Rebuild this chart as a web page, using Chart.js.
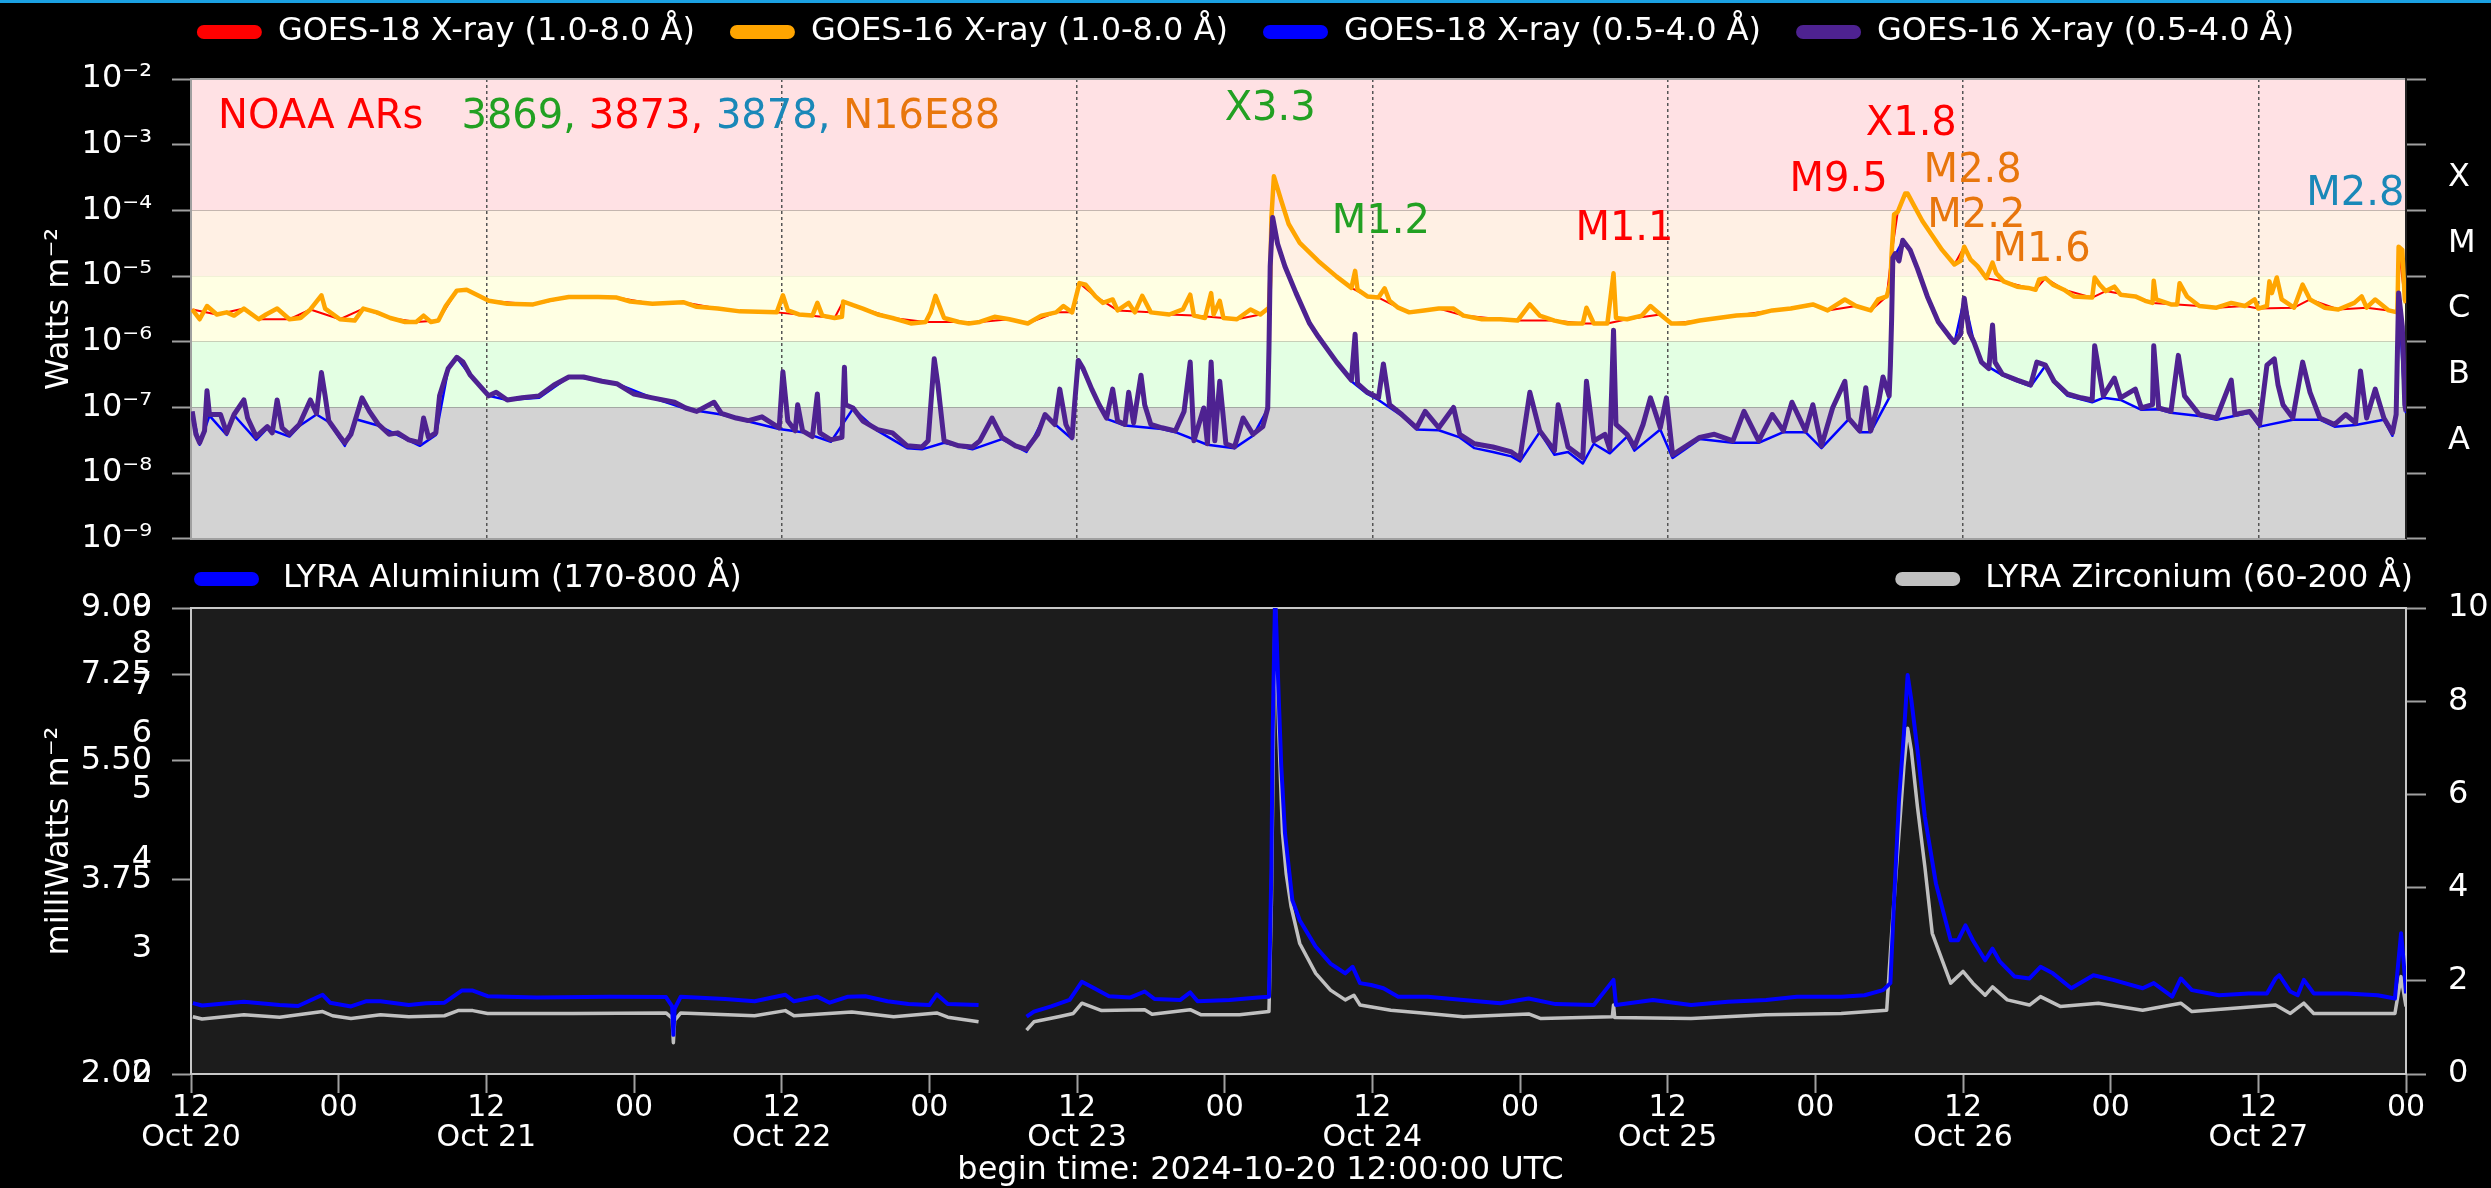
<!DOCTYPE html>
<html>
<head>
<meta charset="utf-8">
<title>GOES / LYRA flux</title>
<script src="https://cdn.jsdelivr.net/npm/chart.js@4.4.1/dist/chart.umd.min.js"></script>
<style>
  html, body { margin: 0; padding: 0; background: #000; }
  body { width: 2491px; height: 1188px; position: relative; overflow: hidden; }
  #topbar { position: absolute; left: 0; top: 0; width: 2491px; height: 3px; background: #1ba1e2; }
  #goes-wrap { position: absolute; left: 0; top: 0; width: 2491px; height: 580px; }
  #lyra-wrap { position: absolute; left: 0; top: 545px; width: 2491px; height: 643px; }
</style>
</head>
<body>
<div id="goes-wrap"><canvas id="goesChart"></canvas></div>
<div id="lyra-wrap"><canvas id="lyraChart"></canvas></div>
<div id="topbar"></div>
<script>
// --- Data: [hours since 2024-10-20 12:00 UTC, value] ---
const BEGIN_TIME = '2024-10-20 12:00:00 UTC';

// GOES X-ray flux, W m^-2
const goes16Long = [
  [0.1,3.1e-6],[0.7,2.2e-6],[1.3,3.5e-6],[2.1,2.6e-6],[2.9,2.8e-6],[3.5,2.5e-6],[4.3,3.2e-6],[5.5,2.2e-6],
  [6.1,2.6e-6],[7.0,3.2e-6],[8.0,2.2e-6],[8.9,2.3e-6],[9.7,3.1e-6],[10.6,5.1e-6],[10.9,3.2e-6],[12.1,2.2e-6],
  [13.3,2.1e-6],[14.0,3.2e-6],[15.1,2.8e-6],[16.2,2.3e-6],[17.4,2.0e-6],[18.3,2.0e-6],[18.9,2.5e-6],[19.5,2.0e-6],
  [20.1,2.1e-6],[20.7,3.5e-6],[21.6,6.0e-6],[22.4,6.2e-6],[23.3,5.1e-6],[24.2,4.2e-6],[25.7,3.8e-6],[27.8,3.7e-6],
  [29.2,4.3e-6],[30.7,4.8e-6],[33.1,4.8e-6],[34.6,4.7e-6],[35.7,4.1e-6],[37.5,3.8e-6],[40.0,4.0e-6],[41.1,3.4e-6],
  [42.8,3.2e-6],[44.6,2.9e-6],[47.6,2.8e-6],[48.1,5.1e-6],[48.5,3.0e-6],[49.4,2.6e-6],[50.5,2.5e-6],[50.9,3.9e-6],
  [51.3,2.5e-6],[52.3,2.3e-6],[52.9,2.4e-6],[53.0,4.1e-6],[53.8,3.6e-6],[54.6,3.2e-6],[55.8,2.6e-6],[57.0,2.3e-6],
  [58.5,1.9e-6],[59.7,2.0e-6],[60.1,2.8e-6],[60.5,5.0e-6],[61.2,2.3e-6],[62.4,2.0e-6],[63.2,1.9e-6],[64.1,2.0e-6],
  [65.3,2.4e-6],[66.5,2.2e-6],[68.0,1.9e-6],[69.1,2.5e-6],[70.3,2.8e-6],[70.9,3.5e-6],[71.6,2.8e-6],[72.2,7.8e-6],
  [72.7,7.4e-6],[73.5,4.9e-6],[74.1,3.9e-6],[74.9,4.4e-6],[75.3,3.0e-6],[76.2,3.9e-6],[76.7,2.8e-6],[77.3,5.0e-6],
  [78.0,2.8e-6],[79.5,2.6e-6],[80.6,3.1e-6],[81.2,5.2e-6],[81.5,2.5e-6],[82.4,2.3e-6],[82.9,5.5e-6],[83.1,2.6e-6],
  [83.6,4.2e-6],[83.9,2.3e-6],[85.0,2.2e-6],[86.1,3.1e-6],[86.9,2.6e-6],[87.6,3.3e-6],[87.7,8.7e-6],[87.8,7.8e-5],
  [88.0,3.3e-4],[88.6,1.4e-4],[89.2,6.2e-5],[90.1,3.2e-5],[91.6,1.7e-5],[93.1,9.8e-6],[94.3,6.6e-6],[94.6,1.2e-5],
  [94.8,6.2e-6],[95.6,4.9e-6],[96.5,4.7e-6],[97.0,6.5e-6],[97.4,4.2e-6],[98.1,3.3e-6],[99.0,2.8e-6],[100.2,3.0e-6],
  [101.4,3.2e-6],[102.6,3.2e-6],[103.4,2.5e-6],[104.9,2.2e-6],[106.4,2.2e-6],[107.8,2.1e-6],[108.8,3.7e-6],[109.6,2.5e-6],
  [110.8,2.1e-6],[111.9,1.9e-6],[113.1,1.9e-6],[113.4,3.3e-6],[114.0,1.9e-6],[115.1,1.9e-6],[115.6,1.1e-5],[115.8,2.3e-6],
  [116.7,2.2e-6],[117.9,2.5e-6],[118.6,3.5e-6],[119.4,2.6e-6],[120.3,1.9e-6],[121.4,1.9e-6],[122.6,2.1e-6],[124.1,2.3e-6],
  [125.6,2.5e-6],[127.1,2.6e-6],[128.5,3.0e-6],[130.0,3.2e-6],[131.8,3.7e-6],[133.0,3.0e-6],[134.4,4.4e-6],[135.3,3.5e-6],
  [136.5,3.0e-6],[137.1,4.4e-6],[137.8,4.9e-6],[138.1,7.8e-6],[138.2,2.2e-5],[138.4,8.7e-5],[138.7,9.5e-5],[139.3,1.8e-4],
  [139.5,1.8e-4],[140.0,1.2e-4],[140.7,6.9e-5],[141.4,4.4e-5],[142.3,2.5e-5],[143.3,1.5e-5],[143.8,1.7e-5],[144.1,2.8e-5],
  [144.6,1.8e-5],[145.2,1.4e-5],[145.9,9.3e-6],[146.4,1.6e-5],[146.7,1.1e-5],[147.3,8.3e-6],[148.4,6.9e-6],[149.3,6.6e-6],
  [149.9,6.2e-6],[150.2,8.9e-6],[150.7,9.3e-6],[151.3,7.4e-6],[152.2,6.2e-6],[153.0,4.9e-6],[154.5,4.7e-6],[154.7,9.5e-6],
  [155.1,7.4e-6],[155.6,5.9e-6],[156.3,6.9e-6],[156.8,5.2e-6],[158.0,4.9e-6],[158.8,4.2e-6],[159.4,3.9e-6],[159.5,8.5e-6],
  [159.7,4.4e-6],[160.9,3.7e-6],[161.4,3.7e-6],[161.6,7.8e-6],[162.2,4.9e-6],[163.2,3.5e-6],[164.6,3.3e-6],[165.8,3.9e-6],
  [166.9,3.5e-6],[167.7,4.4e-6],[168.0,3.2e-6],[168.7,3.5e-6],[168.9,8.3e-6],[169.1,5.5e-6],[169.5,9.5e-6],[169.9,4.4e-6],
  [170.9,3.3e-6],[171.6,7.4e-6],[172.2,4.4e-6],[173.4,3.3e-6],[174.5,3.1e-6],[175.8,3.9e-6],[176.4,4.9e-6],[176.8,3.3e-6],
  [177.5,4.4e-6],[178.6,3.0e-6],[179.3,2.8e-6],[179.4,2.8e-5],[179.7,2.5e-5],[179.9,4.4e-6],[180.0,3.9e-6]
];

const goes18Long = [
  [0.1,3.1e-6],[2.1,2.6e-6],[4.3,3.2e-6],[5.5,2.2e-6],[8.0,2.2e-6],[9.7,3.1e-6],[12.1,2.2e-6],[14.0,3.2e-6],
  [16.2,2.3e-6],[18.3,2.0e-6],[20.1,2.1e-6],[21.6,6.0e-6],[22.4,6.2e-6],[24.2,4.2e-6],[27.8,3.7e-6],[30.7,4.8e-6],
  [34.6,4.7e-6],[37.5,3.8e-6],[40.0,4.0e-6],[42.8,3.2e-6],[44.6,2.9e-6],[47.6,2.8e-6],[49.4,2.6e-6],[52.3,2.3e-6],
  [53.0,4.1e-6],[54.6,3.2e-6],[57.0,2.3e-6],[59.7,2.0e-6],[62.4,2.0e-6],[64.1,2.0e-6],[66.5,2.2e-6],[68.0,1.9e-6],
  [70.3,2.8e-6],[71.6,2.8e-6],[72.2,7.8e-6],[73.5,4.9e-6],[75.3,3.0e-6],[78.0,2.8e-6],[79.5,2.6e-6],[81.5,2.5e-6],
  [83.9,2.3e-6],[85.0,2.2e-6],[86.9,2.6e-6],[87.6,3.3e-6],[87.8,7.8e-5],[88.0,3.3e-4],[88.6,1.4e-4],[89.2,6.2e-5],
  [90.1,3.2e-5],[91.6,1.7e-5],[93.1,9.8e-6],[94.3,6.6e-6],[95.6,4.9e-6],[96.5,4.7e-6],[98.1,3.3e-6],[99.0,2.8e-6],
  [101.4,3.2e-6],[103.4,2.5e-6],[106.4,2.2e-6],[107.8,2.1e-6],[110.8,2.1e-6],[113.1,1.9e-6],[115.1,1.9e-6],[116.7,2.2e-6],
  [119.4,2.6e-6],[120.3,1.9e-6],[122.6,2.1e-6],[125.6,2.5e-6],[128.5,3.0e-6],[130.0,3.2e-6],[131.8,3.7e-6],[133.0,3.0e-6],
  [135.3,3.5e-6],[136.5,3.0e-6],[137.8,4.9e-6],[138.2,2.2e-5],[138.7,9.5e-5],[139.3,1.8e-4],[139.5,1.8e-4],[140.0,1.2e-4],
  [140.7,6.9e-5],[141.4,4.4e-5],[142.3,2.5e-5],[143.3,1.5e-5],[144.1,2.8e-5],[144.6,1.8e-5],[145.9,9.3e-6],[147.3,8.3e-6],
  [149.9,6.2e-6],[150.7,9.3e-6],[152.2,6.2e-6],[154.5,4.7e-6],[155.6,5.9e-6],[158.0,4.9e-6],[159.4,3.9e-6],[161.4,3.7e-6],
  [163.2,3.5e-6],[164.6,3.3e-6],[166.9,3.5e-6],[168.0,3.2e-6],[170.9,3.3e-6],[172.2,4.4e-6],[174.5,3.1e-6],[176.8,3.3e-6],
  [178.6,3.0e-6],[179.3,2.8e-6],[179.4,2.8e-5],[179.9,4.4e-6],[180.0,3.9e-6]
];

const goes16Short = [
  [0.1,8.7e-8],[0.4,3.9e-8],[0.7,2.9e-8],[1.1,4.4e-8],[1.3,1.8e-7],[1.5,7.8e-8],[2.4,7.8e-8],[2.9,4.1e-8],
  [3.5,7.8e-8],[4.3,1.3e-7],[4.6,6.9e-8],[5.3,3.6e-8],[6.2,5.1e-8],[6.6,4.1e-8],[7.0,1.3e-7],[7.4,4.9e-8],
  [8.0,3.9e-8],[8.8,5.5e-8],[9.7,1.3e-7],[10.2,8.1e-8],[10.6,3.4e-7],[10.9,1.5e-7],[11.2,6.2e-8],[12.1,3.6e-8],
  [12.5,2.9e-8],[13.0,3.9e-8],[13.4,6.9e-8],[13.9,1.4e-7],[14.5,8.7e-8],[15.2,5.6e-8],[16.1,3.9e-8],[16.8,4.1e-8],
  [17.7,3.2e-8],[18.6,2.9e-8],[18.9,6.9e-8],[19.3,3.5e-8],[19.9,4.1e-8],[20.2,1.5e-7],[20.9,3.9e-7],[21.6,5.8e-7],
  [22.1,4.9e-7],[22.7,3.1e-7],[23.6,2.0e-7],[24.2,1.5e-7],[24.8,1.7e-7],[25.7,1.3e-7],[26.9,1.4e-7],[28.3,1.5e-7],
  [29.5,2.2e-7],[30.7,2.9e-7],[31.9,2.9e-7],[33.4,2.5e-7],[34.6,2.3e-7],[36.0,1.6e-7],[37.5,1.4e-7],[39.3,1.2e-7],
  [40.2,9.8e-8],[41.1,8.7e-8],[42.5,1.2e-7],[43.1,8.1e-8],[44.3,6.9e-8],[45.3,6.3e-8],[46.4,7.2e-8],[47.8,4.9e-8],
  [48.1,3.5e-7],[48.5,6.2e-8],[49.1,4.4e-8],[49.3,1.1e-7],[49.7,4.4e-8],[50.5,3.6e-8],[50.9,1.6e-7],[51.1,4.1e-8],
  [52.0,3.2e-8],[52.9,3.5e-8],[53.1,4.1e-7],[53.2,1.1e-7],[53.8,9.8e-8],[54.6,6.2e-8],[55.8,4.6e-8],[57.0,4.1e-8],
  [58.2,2.6e-8],[59.4,2.5e-8],[59.9,3.1e-8],[60.4,5.5e-7],[60.7,2.2e-7],[61.2,3.1e-8],[62.4,2.6e-8],[63.5,2.5e-8],
  [64.1,3.1e-8],[65.1,6.9e-8],[65.9,3.5e-8],[67.0,2.6e-8],[67.9,2.3e-8],[68.8,3.9e-8],[69.4,7.8e-8],[70.2,5.5e-8],
  [70.6,1.9e-7],[71.1,5.5e-8],[71.6,3.5e-8],[71.8,1.1e-7],[72.1,5.2e-7],[72.5,3.9e-7],[73.2,1.9e-7],[73.8,1.1e-7],
  [74.4,6.9e-8],[74.9,1.9e-7],[75.3,6.2e-8],[75.9,5.5e-8],[76.2,1.7e-7],[76.6,5.8e-8],[77.2,3.1e-7],[77.5,1.1e-7],
  [78.0,5.5e-8],[78.9,4.9e-8],[80.0,4.4e-8],[80.7,8.7e-8],[81.2,4.9e-7],[81.5,3.1e-8],[82.3,9.8e-8],[82.6,2.8e-8],
  [82.9,4.9e-7],[83.2,3.1e-8],[83.6,2.5e-7],[84.1,2.8e-8],[84.8,2.5e-8],[85.5,6.9e-8],[86.3,3.9e-8],[87.1,5.1e-8],
  [87.5,9.8e-8],[87.6,7.8e-7],[87.7,1.4e-5],[87.9,7.8e-5],[88.3,3.1e-5],[88.9,1.4e-5],[89.8,5.5e-6],[90.9,1.9e-6],
  [91.6,1.2e-6],[93.1,4.9e-7],[94.3,2.6e-7],[94.6,1.3e-6],[94.8,2.3e-7],[95.6,1.7e-7],[96.5,1.4e-7],[96.9,4.6e-7],
  [97.4,1.1e-7],[98.4,7.8e-8],[99.6,4.9e-8],[100.3,8.7e-8],[101.4,4.9e-8],[102.6,1.0e-7],[103.1,3.9e-8],[104.3,2.8e-8],
  [105.8,2.5e-8],[107.3,2.1e-8],[108.0,1.7e-8],[108.8,1.7e-7],[109.6,4.4e-8],[110.8,2.2e-8],[111.1,1.1e-7],[111.9,2.5e-8],
  [113.1,1.7e-8],[113.4,2.5e-7],[114.0,3.1e-8],[114.9,3.9e-8],[115.3,2.3e-8],[115.6,1.5e-6],[115.8,5.5e-8],[116.7,3.9e-8],
  [117.3,2.5e-8],[118.0,5.5e-8],[118.6,1.4e-7],[119.4,4.9e-8],[119.9,1.4e-7],[120.4,1.9e-8],[121.4,2.5e-8],[122.6,3.5e-8],
  [123.8,3.9e-8],[125.3,3.1e-8],[126.2,8.7e-8],[127.4,3.1e-8],[128.5,7.8e-8],[129.4,4.4e-8],[130.1,1.2e-7],[131.2,4.4e-8],
  [131.8,1.1e-7],[132.5,2.6e-8],[133.4,9.8e-8],[134.4,2.5e-7],[134.7,6.9e-8],[135.6,4.4e-8],[136.1,2.0e-7],[136.5,4.4e-8],
  [137.1,1.1e-7],[137.5,2.9e-7],[138.0,1.5e-7],[138.1,4.4e-7],[138.2,2.2e-6],[138.3,1.9e-5],[138.5,2.2e-5],[138.8,1.7e-5],
  [139.1,3.5e-5],[139.7,2.5e-5],[140.3,1.3e-5],[141.1,4.9e-6],[142.0,2.0e-6],[142.9,1.2e-6],[143.3,9.8e-7],[143.8,1.3e-6],
  [144.1,4.6e-6],[144.5,1.4e-6],[144.9,9.8e-7],[145.5,4.9e-7],[146.1,3.9e-7],[146.4,1.8e-6],[146.6,4.9e-7],[147.2,3.2e-7],
  [148.4,2.6e-7],[149.5,2.2e-7],[150.0,4.9e-7],[150.7,4.4e-7],[151.4,2.5e-7],[152.5,1.6e-7],[153.6,1.4e-7],[154.5,1.3e-7],
  [154.7,8.7e-7],[155.4,1.5e-7],[156.3,2.8e-7],[156.8,1.4e-7],[158.0,1.9e-7],[158.5,9.8e-8],[159.4,1.1e-7],[159.5,8.7e-7],
  [159.9,9.8e-8],[160.9,8.7e-8],[161.5,6.2e-7],[162.0,1.5e-7],[163.2,7.8e-8],[164.6,6.9e-8],[165.8,2.6e-7],[166.1,7.8e-8],
  [167.3,8.7e-8],[168.1,5.5e-8],[168.7,4.4e-7],[169.3,5.5e-7],[169.6,2.2e-7],[170.0,1.1e-7],[170.8,6.9e-8],[171.6,4.9e-7],
  [172.2,1.7e-7],[173.0,6.9e-8],[174.2,5.5e-8],[175.1,7.8e-8],[175.9,5.8e-8],[176.3,3.6e-7],[176.8,6.9e-8],[177.5,1.9e-7],
  [178.2,6.9e-8],[178.9,4.1e-8],[179.2,7.8e-8],[179.4,5.5e-6],[179.7,1.7e-6],[179.9,1.1e-7],[180.0,8.7e-8]
];

const goes18Short = [
  [0.1,8.5e-8],[0.7,2.7e-8],[1.5,7.5e-8],[2.9,3.8e-8],[3.5,7.6e-8],[5.3,3.2e-8],[6.2,4.8e-8],[8.0,3.6e-8],
  [8.8,5.2e-8],[10.2,7.8e-8],[11.2,6.0e-8],[12.5,2.6e-8],[13.4,6.6e-8],[15.2,5.3e-8],[16.8,3.8e-8],[18.6,2.6e-8],
  [19.9,3.8e-8],[20.9,3.8e-7],[21.6,5.7e-7],[22.7,3.1e-7],[24.2,1.5e-7],[25.7,1.3e-7],[28.3,1.4e-7],[30.7,2.9e-7],
  [31.9,2.8e-7],[34.6,2.3e-7],[37.5,1.4e-7],[40.2,9.5e-8],[43.1,7.8e-8],[45.3,6.1e-8],[47.8,4.7e-8],[49.7,4.2e-8],
  [52.0,3.0e-8],[53.8,9.6e-8],[55.8,4.4e-8],[58.2,2.4e-8],[59.4,2.3e-8],[61.2,2.9e-8],[63.5,2.3e-8],[65.9,3.3e-8],
  [67.9,2.1e-8],[69.4,7.5e-8],[71.6,3.3e-8],[72.1,5.1e-7],[73.2,1.9e-7],[74.4,6.7e-8],[75.9,5.3e-8],[78.9,4.7e-8],
  [80.0,4.2e-8],[82.6,2.7e-8],[84.8,2.4e-8],[86.3,3.7e-8],[87.5,9.5e-8],[87.6,7.6e-7],[87.7,1.4e-5],[87.9,7.7e-5],
  [88.3,3.1e-5],[88.9,1.4e-5],[89.8,5.4e-6],[90.9,1.9e-6],[91.6,1.2e-6],[93.1,4.8e-7],[94.3,2.5e-7],[95.6,1.6e-7],
  [96.5,1.3e-7],[97.4,1.0e-7],[98.4,7.5e-8],[99.6,4.6e-8],[101.4,4.5e-8],[103.1,3.5e-8],[104.3,2.4e-8],[105.8,2.1e-8],
  [107.3,1.8e-8],[108.0,1.5e-8],[109.6,4.2e-8],[110.8,1.9e-8],[111.9,2.1e-8],[113.1,1.4e-8],[114.0,2.8e-8],[115.3,2.0e-8],
  [116.7,3.6e-8],[117.3,2.2e-8],[119.4,4.6e-8],[120.4,1.7e-8],[121.4,2.3e-8],[122.6,3.3e-8],[125.3,2.9e-8],[127.4,2.9e-8],
  [129.4,4.2e-8],[131.2,4.2e-8],[132.5,2.4e-8],[134.7,6.6e-8],[135.6,4.2e-8],[136.5,4.2e-8],[138.0,1.4e-7],[138.3,1.8e-5],
  [139.1,3.4e-5],[139.7,2.5e-5],[140.3,1.3e-5],[141.1,4.8e-6],[142.0,2.0e-6],[142.9,1.2e-6],[143.3,9.6e-7],[144.1,4.5e-6],
  [144.9,9.6e-7],[145.5,4.8e-7],[147.2,3.1e-7],[148.4,2.5e-7],[149.5,2.1e-7],[150.7,4.3e-7],[151.4,2.4e-7],[152.5,1.5e-7],
  [154.5,1.2e-7],[155.4,1.4e-7],[156.8,1.3e-7],[158.5,9.2e-8],[159.9,9.4e-8],[160.9,8.3e-8],[163.2,7.4e-8],[164.6,6.5e-8],
  [167.3,8.3e-8],[168.1,5.1e-8],[170.8,6.5e-8],[173.0,6.5e-8],[174.2,5.1e-8],[175.9,5.4e-8],[178.2,6.5e-8],[178.9,3.7e-8],
  [179.2,7.5e-8],[179.4,5.3e-6],[179.9,1.0e-7],[180.0,8.2e-8]
];

// LYRA irradiance, mW m^-2 (null = no data)
const lyraAl = [
  [0.15,1.52],[0.9,1.47],[4.3,1.55],[7.2,1.48],[8.7,1.46],[10.7,1.70],[11.3,1.53],[13.0,1.45],[14.2,1.56],
  [15.4,1.56],[17.7,1.48],[19.1,1.52],[20.6,1.53],[22.0,1.79],[22.9,1.79],[24.1,1.67],[28.1,1.64],[34.0,1.66],
  [38.6,1.65],[39.1,1.45],[39.2,0.84],[39.3,1.40],[39.8,1.66],[43.4,1.61],[45.8,1.56],[48.3,1.70],[49.0,1.56],
  [50.9,1.66],[51.9,1.53],[53.4,1.66],[54.8,1.67],[56.6,1.56],[58.3,1.50],[60.0,1.48],[60.6,1.71],[61.5,1.50],
  [64.0,1.48],[66.0,null],[67.9,1.23],[68.5,1.34],[69.9,1.45],[71.4,1.59],[72.4,1.98],[73.4,1.84],[74.6,1.67],
  [76.3,1.64],[77.5,1.77],[78.3,1.61],[80.4,1.59],[81.2,1.75],[81.8,1.56],[84.4,1.59],[86.7,1.64],[87.6,1.66],
  [87.8,4.45],[87.9,7.3],[88.1,10.3],[88.4,8.03],[88.6,6.6],[88.9,5.17],[89.5,3.73],[90.1,3.30],[91.4,2.73],
  [92.6,2.37],[93.8,2.16],[94.4,2.30],[95.0,1.95],[95.9,1.91],[96.9,1.84],[98.1,1.66],[100.5,1.66],[103.4,1.59],
  [106.4,1.52],[108.7,1.62],[110.9,1.50],[114.0,1.48],[115.6,2.02],[115.8,1.48],[118.8,1.59],[121.9,1.48],[124.9,1.55],
  [128.0,1.59],[130.5,1.66],[134.1,1.66],[136.0,1.69],[137.5,1.80],[138.1,1.95],[138.4,3.73],[138.8,5.88],[139.2,7.31],
  [139.5,8.56],[139.8,8.03],[140.3,6.95],[140.9,5.52],[141.8,4.09],[143.0,2.87],[143.6,2.87],[144.2,3.19],[144.8,2.87],
  [145.8,2.44],[146.4,2.69],[147.0,2.41],[148.2,2.09],[149.4,2.05],[150.3,2.30],[151.3,2.16],[152.8,1.84],[154.6,2.12],
  [156.2,2.02],[158.6,1.84],[159.5,1.95],[161.0,1.66],[161.7,2.05],[162.6,1.80],[164.8,1.69],[167.2,1.73],[168.7,1.73],
  [169.4,2.05],[169.7,2.12],[170.6,1.77],[171.2,1.69],[171.7,2.02],[172.5,1.73],[175.2,1.73],[177.7,1.69],[179.1,1.62],
  [179.6,3.02],[179.8,2.44],[180.0,1.73]
];

const lyraZr = [
  [0.15,1.23],[0.9,1.18],[4.3,1.27],[7.2,1.22],[10.7,1.34],[11.5,1.25],[13.0,1.19],[15.4,1.27],[17.7,1.23],
  [20.6,1.25],[21.7,1.36],[22.9,1.36],[24.1,1.30],[31.0,1.30],[38.6,1.31],[39.1,1.20],[39.2,0.67],[39.3,1.15],
  [39.8,1.31],[45.8,1.25],[48.3,1.36],[49.0,1.25],[53.7,1.33],[57.1,1.23],[60.6,1.31],[61.5,1.22],[64.0,1.12],
  [66.0,null],[67.9,0.94],[68.5,1.12],[70.5,1.23],[71.7,1.30],[72.4,1.52],[74.0,1.36],[77.5,1.38],[78.1,1.28],
  [81.2,1.38],[82.1,1.27],[85.2,1.27],[87.6,1.34],[87.8,3.73],[88.0,8.03],[88.1,10.2],[88.4,7.31],[88.7,5.17],
  [89.0,4.30],[89.4,3.59],[90.1,2.80],[91.4,2.16],[92.6,1.80],[93.8,1.59],[94.5,1.69],[95.0,1.48],[97.5,1.37],
  [100.5,1.30],[103.4,1.23],[108.7,1.29],[109.7,1.19],[115.5,1.23],[115.6,1.48],[115.7,1.21],[121.9,1.19],[128.0,1.27],
  [134.1,1.30],[137.8,1.37],[138.2,3.02],[138.7,4.81],[139.2,6.60],[139.5,7.42],[139.8,6.95],[140.3,5.73],[140.9,4.45],
  [141.5,3.02],[143.0,1.95],[144.0,2.20],[144.8,1.95],[145.8,1.69],[146.4,1.87],[147.6,1.59],[149.4,1.48],[150.3,1.66],
  [151.9,1.45],[155.0,1.52],[158.6,1.37],[161.7,1.52],[162.6,1.34],[169.4,1.48],[170.6,1.30],[171.7,1.52],[172.5,1.30],
  [179.1,1.30],[179.6,2.09],[180.0,1.45]
];

// --- Axes ---
const tickHours = [0, 12, 24, 36, 48, 60, 72, 84, 96, 108, 120, 132, 144, 156, 168, 180];
const dayLabels = ['Oct 20', 'Oct 21', 'Oct 22', 'Oct 23', 'Oct 24', 'Oct 25', 'Oct 26', 'Oct 27'];
const fluxTicks = [1e-9, 1e-8, 1e-7, 1e-6, 1e-5, 1e-4, 1e-3, 1e-2];
const fluxTickLabels = ['10⁻⁹', '10⁻⁸', '10⁻⁷', '10⁻⁶', '10⁻⁵', '10⁻⁴', '10⁻³', '10⁻²'];
const flareClasses = ['X', 'M', 'C', 'B', 'A'];
const classFloor = [1e-4, 1e-5, 1e-6, 1e-7, 1e-9];
const lyraMainTicks = [2, 3.75, 5.5, 7.25, 9];
const lyraMainLabels = ['2.00', '3.75', '5.50', '7.25', '9.00'];
const lyraMinorTicks = [2, 3, 4, 5, 6, 7, 8, 9];

// --- Styles ---
const FONT = "'DejaVu Sans', sans-serif";
const AXIS_GRAY = '#a0a0a0';
const bandFills = ['#ffe1e4', '#fff0e4', '#ffffe3', '#e3ffe3', '#d3d3d3'];
const NOTE = { green: '#22a022', red: '#ff0000', blue: '#1a88b8', orange: '#e8760c' };

// flare peak notes, anchored in data space (left / baseline)
const flareNotes = [
  { text: 'X3.3', color: NOTE.green, h: 84.0, f: 2.4e-3 },
  { text: 'M1.2', color: NOTE.green, h: 92.7, f: 4.5e-5 },
  { text: 'M1.1', color: NOTE.red, h: 112.5, f: 3.6e-5 },
  { text: 'M9.5', color: NOTE.red, h: 129.9, f: 2.0e-4 },
  { text: 'X1.8', color: NOTE.red, h: 136.1, f: 1.4e-3 },
  { text: 'M2.8', color: NOTE.orange, h: 140.8, f: 2.7e-4 },
  { text: 'M2.2', color: NOTE.orange, h: 141.1, f: 5.6e-5 },
  { text: 'M1.6', color: NOTE.orange, h: 146.4, f: 1.7e-5 },
  { text: 'M2.8', color: NOTE.blue, h: 171.9, f: 1.2e-4 }
];
const regionLine = { h: 2.2, f: 1.8e-3, parts: [
  ['NOAA ARs   ', NOTE.red], ['3869, ', NOTE.green], ['3873, ', NOTE.red], ['3878, ', NOTE.blue], ['N16E88', NOTE.orange]
] };

Chart.defaults.font.family = FONT;
Chart.defaults.font.size = 32;
Chart.defaults.color = '#fff';

const toXY = rows => rows.map(r => ({ x: r[0], y: r[1] }));

function hourLabel(h) {
  return h % 24 === 0 ? ['12', dayLabels[h / 24]] : '00';
}

// class bands behind the GOES traces
const fluxBands = {
  id: 'fluxBands',
  beforeDraw(chart) {
    const { ctx, chartArea: a, scales: { y } } = chart;
    ctx.save();
    classFloor.forEach((lo, i) => {
      const hi = i === 0 ? 1e-2 : classFloor[i - 1];
      const top = y.getPixelForValue(hi);
      const bot = y.getPixelForValue(lo);
      ctx.fillStyle = bandFills[i];
      ctx.fillRect(a.left, top, a.width, bot - top);
    });
    ctx.restore();
  }
};

const flareText = {
  id: 'flareText',
  afterDatasetsDraw(chart) {
    const { ctx, scales: { x, y } } = chart;
    ctx.save();
    ctx.font = '40px ' + FONT;
    ctx.textAlign = 'left';
    ctx.textBaseline = 'alphabetic';
    flareNotes.forEach(n => {
      ctx.fillStyle = n.color;
      ctx.fillText(n.text, x.getPixelForValue(n.h), y.getPixelForValue(n.f));
    });
    let px = x.getPixelForValue(regionLine.h);
    const py = y.getPixelForValue(regionLine.f);
    regionLine.parts.forEach(([t, c]) => {
      ctx.fillStyle = c;
      ctx.fillText(t, px, py);
      px += ctx.measureText(t).width;
    });
    ctx.restore();
  }
};

const lyraPanel = {
  id: 'lyraPanel',
  beforeDraw(chart) {
    const { ctx, chartArea: a } = chart;
    ctx.save();
    ctx.fillStyle = '#1c1c1c';
    ctx.fillRect(a.left, a.top, a.width, a.height);
    ctx.restore();
  }
};

// LYRA keys in opposite corners above the panel, begin time under the axis
const lyraKey = {
  id: 'lyraKey',
  afterDraw(chart) {
    const { ctx, chartArea: a } = chart;
    const ds = chart.data.datasets;
    const cy = 34;
    ctx.save();
    ctx.font = '32px ' + FONT;
    ctx.textBaseline = 'middle';
    const pill = (x, color) => {
      ctx.fillStyle = color;
      ctx.beginPath();
      ctx.roundRect(x, cy - 7, 65, 14, 7);
      ctx.fill();
    };
    pill(a.left + 3, ds[0].borderColor);
    ctx.fillStyle = '#fff';
    ctx.textAlign = 'left';
    ctx.fillText(ds[0].label, a.left + 92, cy);
    const w = ctx.measureText(ds[1].label).width;
    const textRight = a.right + 7;
    ctx.textAlign = 'right';
    ctx.fillText(ds[1].label, textRight, cy);
    pill(textRight - w - 25 - 65, ds[1].borderColor);

    ctx.fillStyle = '#fff';
    ctx.textAlign = 'center';
    ctx.fillText('begin time: ' + BEGIN_TIME, (a.left + a.right) / 2 - 38, chart.height - 17);
    ctx.restore();
  }
};

const goesChart = new Chart(document.getElementById('goesChart'), {
  type: 'line',
  data: {
    datasets: [
      { label: 'GOES-18 X-ray (1.0-8.0 Å)', data: toXY(goes18Long), borderColor: '#ff0000', backgroundColor: '#ff0000', borderWidth: 2, order: 4 },
      { label: 'GOES-16 X-ray (1.0-8.0 Å)', data: toXY(goes16Long), borderColor: '#ffa500', backgroundColor: '#ffa500', borderWidth: 4.5, order: 3 },
      { label: 'GOES-18 X-ray (0.5-4.0 Å)', data: toXY(goes18Short), borderColor: '#0000ff', backgroundColor: '#0000ff', borderWidth: 2.5, order: 2 },
      { label: 'GOES-16 X-ray (0.5-4.0 Å)', data: toXY(goes16Short), borderColor: '#4e2291', backgroundColor: '#4e2291', borderWidth: 5, order: 1 }
    ]
  },
  options: {
    responsive: true,
    maintainAspectRatio: false,
    animation: false,
    elements: { point: { radius: 0 }, line: { tension: 0, borderJoinStyle: 'round' } },
    layout: { padding: { top: -19, left: 0, right: 0, bottom: 0 } },
    scales: {
      x: {
        type: 'linear', position: 'bottom', min: 0, max: 180,
        afterBuildTicks: s => { s.ticks = tickHours.map(v => ({ value: v })); },
        ticks: { display: false },
        grid: {
          drawTicks: false, lineWidth: 1.5,
          color: c => (c.tick && c.tick.value > 0 && c.tick.value % 24 === 0) ? '#555' : 'rgba(0,0,0,0)'
        },
        border: { color: AXIS_GRAY, width: 2, dash: [3, 3] },
        afterFit: s => { s.height = 41; }
      },
      xTop: {
        type: 'linear', position: 'top', min: 0, max: 180,
        ticks: { display: false }, grid: { display: false },
        border: { color: AXIS_GRAY, width: 2 },
        afterFit: s => { s.height = 21; }
      },
      y: {
        type: 'logarithmic', position: 'left', min: 1e-9, max: 1e-2,
        afterBuildTicks: s => { s.ticks = fluxTicks.map(v => ({ value: v })); },
        ticks: { autoSkip: false, padding: 20, color: '#fff', callback: (v, i) => fluxTickLabels[i] },
        grid: { drawOnChartArea: false, tickLength: 19, tickColor: AXIS_GRAY, tickWidth: 2 },
        border: { color: AXIS_GRAY, width: 2 },
        title: { display: true, text: 'Watts m⁻²', color: '#fff', padding: { top: 40, bottom: 0 } },
        afterFit: s => { s.width = 191; }
      },
      yClass: {
        type: 'logarithmic', position: 'right', min: 1e-9, max: 1e-2,
        afterBuildTicks: s => {
          s.ticks = fluxTicks.map(v => ({ value: v }))
            .concat(flareClasses.map((c, i) => ({ value: classFloor[i] * (i === 4 ? 1e1 : 1) * Math.sqrt(10), letter: c })));
        },
        ticks: { autoSkip: false, padding: 22, color: '#fff', callback: (v, i, t) => t[i].letter || '' },
        grid: {
          drawOnChartArea: false, tickLength: 20, tickWidth: 2,
          tickColor: c => (c.tick && c.tick.letter) ? 'rgba(0,0,0,0)' : AXIS_GRAY
        },
        border: { color: '#222', width: 2 },
        afterFit: s => { s.width = 85; }
      }
    },
    plugins: {
      legend: {
        position: 'top', align: 'center',
        labels: {
          color: '#fff', font: { size: 32 }, boxWidth: 65, boxHeight: 14, padding: 35,
          useBorderRadius: true, borderRadius: 7,
          sort: (a, b) => a.datasetIndex - b.datasetIndex,
          generateLabels: chart => Chart.defaults.plugins.legend.labels.generateLabels(chart)
            .map(l => Object.assign(l, { lineWidth: 0 }))
        }
      },
      tooltip: { enabled: false }
    }
  },
  plugins: [fluxBands, flareText]
});

const lyraChart = new Chart(document.getElementById('lyraChart'), {
  type: 'line',
  data: {
    datasets: [
      { label: 'LYRA Aluminium (170-800 Å)', data: toXY(lyraAl), borderColor: '#0000ff', backgroundColor: '#0000ff', borderWidth: 4, yAxisID: 'y' },
      { label: 'LYRA Zirconium (60-200 Å)', data: toXY(lyraZr), borderColor: '#c0c0c0', backgroundColor: '#c0c0c0', borderWidth: 3.5, yAxisID: 'y' }
    ]
  },
  options: {
    responsive: true,
    maintainAspectRatio: false,
    animation: false,
    spanGaps: false,
    elements: { point: { radius: 0 }, line: { tension: 0, borderJoinStyle: 'round' } },
    layout: { padding: { top: 63, left: 0, right: 0, bottom: 0 } },
    scales: {
      x: {
        type: 'linear', position: 'bottom', min: 0, max: 180,
        afterBuildTicks: s => { s.ticks = tickHours.map(v => ({ value: v })); },
        ticks: { autoSkip: false, maxRotation: 0, padding: 0, color: '#fff', font: { size: 30, lineHeight: 1 }, callback: hourLabel },
        grid: { drawOnChartArea: false, tickLength: 19, tickColor: AXIS_GRAY, tickWidth: 2 },
        border: { color: '#c8c8c8', width: 2 },
        afterFit: s => { s.height = 114; }
      },
      xTop: {
        type: 'linear', position: 'top', min: 0, max: 180,
        ticks: { display: false }, grid: { display: false },
        border: { color: '#c8c8c8', width: 2 },
        afterFit: s => { s.height = 0; }
      },
      yL: {
        type: 'logarithmic', position: 'left', min: 2, max: 9,
        afterBuildTicks: s => {
          s.ticks = lyraMainTicks.map((v, i) => ({ value: v, main: lyraMainLabels[i] }))
            .concat(lyraMinorTicks.map(v => ({ value: v })));
        },
        ticks: { autoSkip: false, padding: 20, color: '#fff', callback: (v, i, t) => t[i].main || String(v) },
        grid: {
          drawOnChartArea: false, tickLength: 19, tickWidth: 2,
          tickColor: c => (c.tick && c.tick.main) ? AXIS_GRAY : 'rgba(0,0,0,0)'
        },
        border: { color: '#c8c8c8', width: 2 },
        title: { display: true, text: 'milliWatts m⁻²', color: '#fff', padding: { top: 40, bottom: 0 } },
        afterFit: s => { s.width = 191; }
      },
      y: {
        type: 'linear', position: 'right', min: 0, max: 10,
        ticks: { stepSize: 2, padding: 22, color: '#fff' },
        grid: { drawOnChartArea: false, tickLength: 20, tickColor: AXIS_GRAY, tickWidth: 2 },
        border: { color: '#c8c8c8', width: 2 },
        afterFit: s => { s.width = 85; }
      }
    },
    plugins: { legend: { display: false }, tooltip: { enabled: false } }
  },
  plugins: [lyraPanel, lyraKey]
});
</script>
</body>
</html>
